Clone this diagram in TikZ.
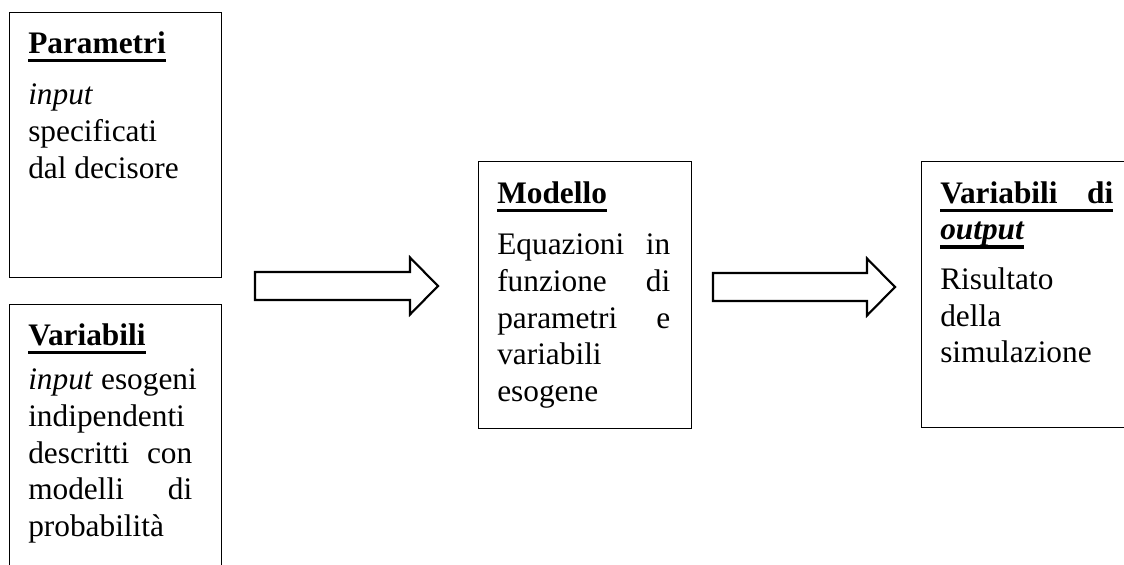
\documentclass[tikz,border=0pt]{standalone}
\usepackage{fontspec}
\setmainfont{Liberation Serif}
\usetikzlibrary{calc}

% one screen pixel of the layout grid
\newdimen\px \px=0.75pt

% bold heading with a heavy underline
\newcommand\ulbox[1]{\setbox0\hbox{#1}\rlap{\rule[-9\px]{\wd0}{3.3\px}}\box0}
\newcommand\hd[1]{\hbox{\bfseries\ulbox{#1}}}
\newcommand\hdj[2]{\hbox{\bfseries\ulbox{\hbox to\hsize{#1\hfill#2}}}}
% text lines: plain and justified
\newcommand\tline[1]{\hbox{#1}}
\newcommand\jline[2]{\hbox to\hsize{#1\hfill#2}}
\newcommand\gap[1]{\vskip#1\px}

\tikzset{
  frame/.style={draw, line width=1pt, inner sep=0pt, anchor=north west},
  textblock/.style={anchor=base west, inner sep=0pt,
    font=\fontsize{23.5pt}{27.5pt}\selectfont},
  blockarrow/.style={draw, line width=1.6pt, line join=miter, fill=white},
}

\newcommand\blockarrow[2]{%
  \draw[blockarrow] ($(#1)+(0,-14)$) -- ($(#2)+(-28,-14)$) -- ($(#2)+(-28,-28.5)$)
    -- (#2) -- ($(#2)+(-28,28.5)$) -- ($(#2)+(-28,14)$) -- ($(#1)+(0,14)$) -- cycle;}

\begin{document}
\begin{tikzpicture}[x=0.75pt, y=-0.75pt]
\useasboundingbox (0,0) rectangle (1124,564);
\clip (0,0) rectangle (1124,564);

% frames
\node[frame, minimum width={212*0.75pt}, minimum height={265*0.75pt}] (par) at (9,12) {};
\node[frame, minimum width={212*0.75pt}, minimum height={300*0.75pt}] (var) at (9,304) {};
\node[frame, minimum width={213*0.75pt}, minimum height={267*0.75pt}] (mod) at (478,161) {};
\node[frame, minimum width={225*0.75pt}, minimum height={266*0.75pt}] (out) at (921,161) {};

% contents
\node[textblock] (partext) at ($(par.north west)+(19,41)$) {\parbox[t]{164\px}{%
  \hd{Parametri}\gap{15}
  \tline{\itshape input}
  \tline{specificati}
  \tline{dal decisore}}};

\node[textblock] (vartext) at ($(var.north west)+(19,41)$) {\parbox[t]{164\px}{%
  \hd{Variabili}\gap{8}
  \tline{\textit{input} esogeni}
  \tline{indipendenti}
  \jline{descritti}{con}
  \jline{modelli}{di}
  \tline{probabilità}}};

\node[textblock] (modtext) at ($(mod.north west)+(19,42)$) {\parbox[t]{173\px}{%
  \hd{Modello}\gap{15}
  \jline{Equazioni}{in}
  \jline{funzione}{di}
  \jline{parametri}{e}
  \tline{variabili}
  \tline{esogene}}};

\node[textblock] (outtext) at ($(out.north west)+(19,42)$) {\parbox[t]{173\px}{%
  \hdj{Variabili}{di}
  \hd{\itshape output}\gap{13}
  \tline{Risultato}
  \tline{della}
  \tline{simulazione}}};

% block arrows
\coordinate (a1s) at (255,286);
\coordinate (a1e) at (438,286);
\coordinate (a2s) at (713,287);
\coordinate (a2e) at (895,287);
\blockarrow{a1s}{a1e}
\blockarrow{a2s}{a2e}
\end{tikzpicture}
\end{document}
